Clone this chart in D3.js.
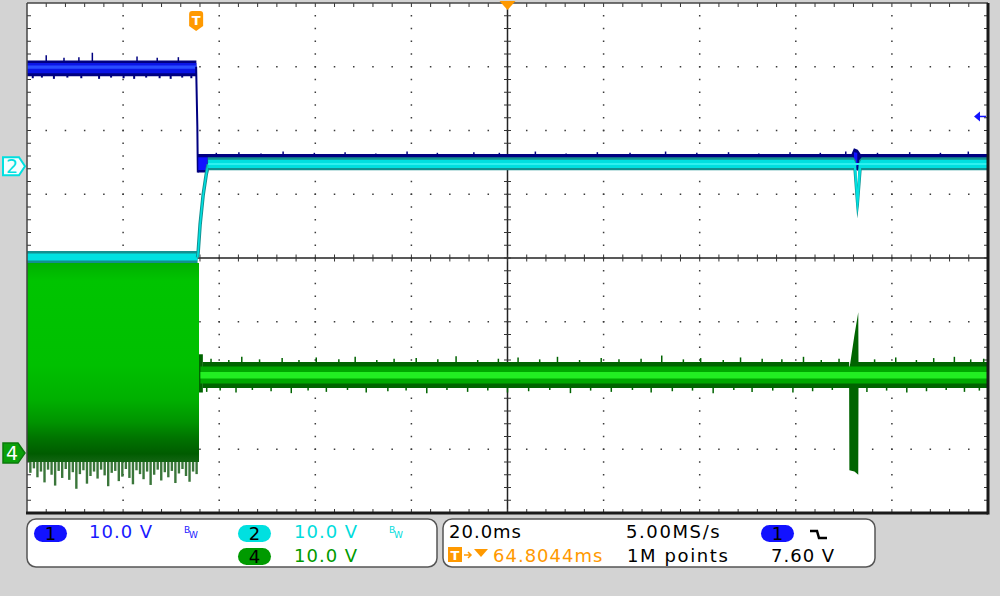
<!DOCTYPE html>
<html>
<head>
<meta charset="utf-8">
<script src="https://cdn.jsdelivr.net/npm/d3@7"></script>
<style>
    body { margin: 0; background: #d3d3d3; }
    svg { display: block; font-family: "DejaVu Sans", sans-serif; }
</style>
</head>
<body>
<svg id="scope" width="1000" height="596"></svg>
<script>
// ---- scope settings ----
const timePerDiv = 20;               // ms / div
const voltsPerDiv = 10;              // V / div, all channels
const timeWindow = [-35.2, 164.8];   // ms, trigger at 0
const chPosition = {ch1: 1.46, ch2: 1.44, ch4: -3.06};  // ground level, div from centre

// ---- channel 1 (blue) : [time ms, low V, high V] ----
const ch1HighBand = [[-35.2, 13.9, 16.4], [0.05, 13.9, 16.4]];
const ch1HighCore = [[-35.2, 14.4, 16.0], [0.05, 14.4, 16.0]];
const ch1HighLine = [[-35.2, 15.1, 15.6], [0.05, 15.1, 15.6]];
const ch1Fall = [[0.0, 15.4], [0.25, 6.0], [0.35, -1.2]];
const ch1LowBand = [[0.35, -1.2, 1.7], [2.5, -1.2, 1.7], [2.6, -0.3, 1.7], [136.4, -0.3, 1.7],
    [136.9, -0.6, 2.6], [137.7, -0.9, 2.4], [138.3, -0.3, 1.7], [164.8, -0.3, 1.7]];
const ch1LowCore = [[0.45, -0.8, 1.2], [2.4, -0.8, 1.2]];
const ch1BlobCore = [[136.9, 0.1, 2.0], [137.6, -0.3, 1.9]];
const ch1HighSpikes = [[-31.2, 0.9], [-27.5, 0.5], [-24.4, 0.6], [-21.6, 1.3], [-12.3, 0.7], [-8.1, 0.5], [-3.7, 0.6]];
const ch1HighDips = [[-34.0, 0.4], [-32.1, 0.3], [-29.6, 0.5], [-26.8, 0.3], [-23.9, 0.4], [-20.2, 0.5], [-17.7, 0.3],
    [-15.1, 0.4], [-12.9, 0.5], [-10.4, 0.3], [-7.6, 0.4], [-5.3, 0.5], [-2.9, 0.3], [-1.0, 0.4]];
const ch1LowSpikes = [[4.2, 0.3], [8.9, 0.4], [13.5, 0.2], [18.1, 0.5], [24.6, 0.3], [31.0, 0.4], [37.4, 0.2], [43.9, 0.5],
    [50.2, 0.3], [57.8, 0.4], [63.1, 0.3], [70.6, 0.5], [77.0, 0.2], [83.5, 0.4], [90.3, 0.3], [97.7, 0.5],
    [104.2, 0.3], [110.8, 0.4], [117.1, 0.2], [123.6, 0.4], [129.9, 0.3], [135.2, 0.5], [141.8, 0.3],
    [148.5, 0.4], [154.9, 0.3], [160.7, 0.5]];

// ---- channel 2 (cyan) ----
const ch2PreBand = [[-35.2, -15.3, -13.3], [0.3, -15.3, -13.3]];
const ch2PreCore = [[-35.2, -14.8, -13.7], [0.3, -14.8, -13.7]];
const ch2Ramp = [[0.3, -14.3], [0.42, -13.5], [0.83, -9.1], [1.46, -4.5], [2.08, -1.4], [2.5, 0.3]];
const ch2PostBand = [[2.4, -0.65, 1.4], [136.8, -0.65, 1.4], [137.3, -5.6, 0.9], [137.6, -8.2, -3.0],
    [137.95, -6.0, 0.9], [138.5, -0.65, 1.4], [164.8, -0.65, 1.4]];
const ch2PostCore = [[2.5, -0.3, 1.0], [136.9, -0.3, 1.0], [137.35, -5.0, 0.3], [137.6, -7.6, -3.6],
    [137.9, -5.4, 0.3], [138.4, -0.3, 1.0], [164.8, -0.3, 1.0]];
const ch2PostLine = [[2.5, 0.2, 0.5], [164.8, 0.2, 0.5]];

// ---- channel 4 (green) ----
const ch4PreBlock = [[-35.2, -1.4, 29.8], [0.6, -1.4, 29.8]];
const ch4PreDips = [-3.1, -2.4, -3.8, -2.9, -4.6, -2.6, -3.4, -5.1, -2.8, -3.9, -2.5, -4.2, -3.0, -5.6, -3.3, -2.7,
    -4.8, -3.6, -2.9, -4.0, -2.6, -3.5, -5.2, -3.1, -2.8, -4.4, -3.7, -2.5, -3.9, -4.9, -2.7, -3.3,
    -4.1, -2.9, -5.0, -3.4, -2.6, -4.3, -3.0, -3.8, -2.8, -4.7, -3.2, -2.5, -3.6, -4.5, -2.9, -3.3];
const ch4Settle = [[0.6, 9.5, 15.5], [1.4, 9.5, 15.5]];
const ch4PostOuter = [[1.4, 10.2, 14.3], [135.9, 10.2, 14.3], [135.95, -2.7, 13.2], [137.0, -2.9, 18.5],
    [137.8, -3.4, 22.1], [137.85, 10.2, 14.3], [164.8, 10.2, 14.3]];
const ch4PostMid = [[0.9, 10.9, 13.6], [164.8, 10.9, 13.6]];
const ch4PostCore = [[0.9, 11.7, 12.7], [164.8, 11.7, 12.7]];
const ch4UpSpikes = [[3.1, 0.6], [6.8, 0.4], [9.5, 0.9], [13.2, 0.5], [17.9, 0.7], [21.4, 0.4], [25.0, 0.8],
    [29.7, 0.5], [33.1, 0.9], [37.6, 0.4], [41.2, 0.6], [45.8, 0.7], [50.3, 0.5], [54.1, 1.0], [58.6, 0.4],
    [62.9, 0.6], [67.0, 0.8], [71.5, 0.5], [75.2, 0.9], [79.8, 0.4], [84.3, 0.7], [88.0, 0.5], [92.6, 0.6],
    [96.9, 1.1], [101.4, 0.5], [105.0, 0.7], [109.7, 0.4], [113.3, 0.8], [117.8, 0.6], [121.9, 0.5],
    [126.4, 0.9], [130.1, 0.4], [133.8, 0.6], [141.2, 0.5], [145.6, 0.8], [149.9, 0.4], [153.5, 0.7],
    [157.8, 0.9], [161.2, 0.5], [163.9, 0.6]];
const ch4DownSpikes = [[2.2, 0.7], [5.0, 0.5], [8.3, 0.8], [11.7, 0.4], [15.6, 0.6], [19.8, 0.9], [23.3, 0.5],
    [27.1, 0.7], [31.5, 0.4], [35.4, 0.8], [39.9, 0.6], [43.7, 0.5], [48.0, 0.9], [52.2, 0.4], [56.5, 0.7],
    [60.7, 0.5], [64.8, 0.8], [69.2, 0.6], [73.6, 0.4], [77.9, 0.9], [82.1, 0.5], [86.4, 0.7], [90.8, 0.4],
    [94.7, 0.8], [99.1, 0.6], [103.3, 0.5], [107.6, 0.9], [111.9, 0.4], [115.7, 0.7], [120.0, 0.5],
    [124.2, 0.8], [128.3, 0.6], [132.4, 0.4], [139.6, 0.7], [143.7, 0.5], [147.9, 0.8], [152.0, 0.6],
    [156.1, 0.4], [159.9, 0.7], [163.0, 0.5]];

// ---- readout ----
const chLabels = [
    {ch: "1", text: "10.0 V", bw: true},
    {ch: "2", text: "10.0 V", bw: true},
    {ch: "4", text: "10.0 V", bw: false}
];
const timebase = "20.0ms";
const sampleRate = "5.00MS/s";
const triggerDelay = "64.8044ms";
const recordLength = "1M points";
const triggerLevel = "7.60 V";

// ---- layout ----
const plot = {left: 27, right: 988, top: 3, bottom: 513};
const colors = {
    ch1: "#1212ff", ch1Dark: "#000080",
    ch2: "#00e0e0", ch2Dark: "#138f8f",
    ch4: "#00a800", ch4Dark: "#006400", ch4Bright: "#22ee22",
    orange: "#ff9900", grid: "#3a3a3a"
};

const svg = d3.select("#scope");

const x = d3.scaleLinear().domain(timeWindow).range([plot.left, plot.right]);
const yDiv = d3.scaleLinear().domain([-4, 4]).range([plot.bottom, plot.top]);
function yCh(ch) {
    return v => yDiv(v / voltsPerDiv + chPosition[ch]);
}
const y1 = yCh("ch1"), y2 = yCh("ch2"), y4 = yCh("ch4");

// plot background
svg.append("rect")
    .attr("x", plot.left).attr("y", plot.top)
    .attr("width", plot.right - plot.left).attr("height", plot.bottom - plot.top)
    .attr("fill", "#ffffff");

// graticule
const gx = d3.scaleLinear().domain([0, 10]).range([plot.left, plot.right]);
const gy = d3.scaleLinear().domain([0, 8]).range([plot.top, plot.bottom]);
const grid = svg.append("g");
const minorXs = d3.range(1, 50).map(i => i / 5);
const minorYs = d3.range(1, 40).map(i => i / 5);

[1, 2, 3, 4, 6, 7, 8, 9].forEach(i => {
    grid.selectAll(null).data(minorYs).enter().append("rect")
        .attr("x", gx(i) - 0.75).attr("y", d => gy(d) - 0.75)
        .attr("width", 1.5).attr("height", 1.5).attr("fill", colors.grid);
});
[1, 2, 3, 5, 6, 7].forEach(j => {
    grid.selectAll(null).data(minorXs).enter().append("rect")
        .attr("x", d => gx(d) - 0.75).attr("y", gy(j) - 0.75)
        .attr("width", 1.5).attr("height", 1.5).attr("fill", colors.grid);
});

// centre cross with ticks
grid.append("line")
    .attr("x1", gx(5)).attr("x2", gx(5)).attr("y1", plot.top).attr("y2", plot.bottom)
    .attr("stroke", "#222").attr("stroke-width", 1.5);
grid.append("line")
    .attr("x1", plot.left).attr("x2", plot.right).attr("y1", gy(4)).attr("y2", gy(4))
    .attr("stroke", "#222").attr("stroke-width", 1.5);
grid.selectAll(null).data(minorYs).enter().append("line")
    .attr("x1", gx(5) - 3.5).attr("x2", gx(5) + 3.5)
    .attr("y1", d => gy(d)).attr("y2", d => gy(d))
    .attr("stroke", "#333").attr("stroke-width", 1);
grid.selectAll(null).data(minorXs).enter().append("line")
    .attr("y1", gy(4) - 3.5).attr("y2", gy(4) + 3.5)
    .attr("x1", d => gx(d)).attr("x2", d => gx(d))
    .attr("stroke", "#333").attr("stroke-width", 1);

// edge ticks
grid.selectAll(null).data(minorXs).enter().append("line")
    .attr("x1", d => gx(d)).attr("x2", d => gx(d))
    .attr("y1", plot.top).attr("y2", plot.top + 4)
    .attr("stroke", "#333");
grid.selectAll(null).data(minorXs).enter().append("line")
    .attr("x1", d => gx(d)).attr("x2", d => gx(d))
    .attr("y1", plot.bottom).attr("y2", plot.bottom - 4)
    .attr("stroke", "#333");
grid.selectAll(null).data(minorYs).enter().append("line")
    .attr("x1", plot.left).attr("x2", plot.left + 4)
    .attr("y1", d => gy(d)).attr("y2", d => gy(d))
    .attr("stroke", "#333");
grid.selectAll(null).data(minorYs).enter().append("line")
    .attr("x1", plot.right).attr("x2", plot.right - 4)
    .attr("y1", d => gy(d)).attr("y2", d => gy(d))
    .attr("stroke", "#333");

// clip for traces
svg.append("clipPath").attr("id", "plotClip").append("rect")
    .attr("x", plot.left).attr("y", plot.top)
    .attr("width", plot.right - plot.left).attr("height", plot.bottom - plot.top);
const traces = svg.append("g").attr("clip-path", "url(#plotClip)");

function band(data, yFn, fill) {
    const area = d3.area()
        .x(d => x(d[0]))
        .y0(d => yFn(d[1]))
        .y1(d => yFn(d[2]));
    traces.append("path").datum(data).attr("d", area).attr("fill", fill);
}
function trace(data, yFn, stroke, width) {
    const line = d3.line().x(d => x(d[0])).y(d => yFn(d[1]));
    traces.append("path").datum(data).attr("d", line)
        .attr("fill", "none").attr("stroke", stroke).attr("stroke-width", width);
}
function spikes(data, baseV, dir, yFn, stroke, width) {
    traces.selectAll(null).data(data).enter().append("line")
        .attr("x1", d => x(d[0])).attr("x2", d => x(d[0]))
        .attr("y1", yFn(baseV)).attr("y2", d => yFn(baseV + dir * d[1]))
        .attr("stroke", stroke).attr("stroke-width", width);
}

// channel 1
band(ch1HighBand, y1, colors.ch1Dark);
spikes(ch1HighSpikes, 16.3, 1, y1, colors.ch1Dark, 1.5);
spikes(ch1HighDips, 14.0, -1, y1, colors.ch1Dark, 2);
band(ch1HighCore, y1, "#0a14e6");
band(ch1HighLine, y1, "#2a4cff");
trace(ch1Fall, y1, colors.ch1Dark, 2);
band(ch1LowBand, y1, colors.ch1Dark);
spikes(ch1LowSpikes, 1.6, 1, y1, colors.ch1Dark, 1.5);
band(ch1LowCore, y1, colors.ch1);
band(ch1BlobCore, y1, colors.ch1);

// channel 2
band(ch2PreBand, y2, colors.ch2Dark);
band(ch2PreCore, y2, colors.ch2);
trace(ch2Ramp, y2, colors.ch2Dark, 3.5);
trace(ch2Ramp, y2, colors.ch2, 1.6);
band(ch2PostBand, y2, colors.ch2Dark);
band(ch2PostCore, y2, colors.ch2);
band(ch2PostLine, y2, "#2ef0f0");

// channel 4
const grad = svg.append("defs").append("linearGradient")
    .attr("id", "ch4Persist").attr("gradientUnits", "userSpaceOnUse")
    .attr("x1", 0).attr("x2", 0).attr("y1", y4(29.8)).attr("y2", y4(-5.8));
[[0, "#00b000"], [0.08, "#00c400"], [0.45, "#00c000"], [0.6, "#00b000"], [0.7, "#009400"],
 [0.77, "#007400"], [0.84, "#005c00"], [0.9, "#1f6a1f"], [1, "#3c7a3c"]].forEach(s => {
    grad.append("stop").attr("offset", s[0]).attr("stop-color", s[1]);
});
const preTimes = d3.range(ch4PreDips.length).map(i =>
    ch4PreBlock[0][0] + 0.7 + i * (ch4PreBlock[1][0] - ch4PreBlock[0][0] - 1.2) / (ch4PreDips.length - 1));
traces.selectAll(null).data(ch4PreDips).enter().append("line")
    .attr("x1", (d, i) => x(preTimes[i])).attr("x2", (d, i) => x(preTimes[i]))
    .attr("y1", y4(-1.0)).attr("y2", d => y4(d))
    .attr("stroke", "#3a763a").attr("stroke-width", 2.4);
band(ch4PreBlock, y4, "url(#ch4Persist)");
band(ch4Settle, y4, colors.ch4Dark);
band(ch4PostOuter, y4, colors.ch4Dark);
spikes(ch4UpSpikes, 14.2, 1, y4, colors.ch4Dark, 1.5);
spikes(ch4DownSpikes, 10.3, -1, y4, colors.ch4Dark, 1.5);
band(ch4PostMid, y4, colors.ch4);
band(ch4PostCore, y4, colors.ch4Bright);

// frame
svg.append("line").attr("x1", plot.left).attr("x2", plot.right).attr("y1", plot.top).attr("y2", plot.top)
    .attr("stroke", "#444").attr("stroke-width", 1.5);
svg.append("line").attr("x1", plot.left).attr("x2", plot.left).attr("y1", plot.top).attr("y2", plot.bottom)
    .attr("stroke", "#444").attr("stroke-width", 1.5);
svg.append("line").attr("x1", plot.right).attr("x2", plot.right).attr("y1", plot.top).attr("y2", plot.bottom + 1.5)
    .attr("stroke", "#1a1a1a").attr("stroke-width", 3);
svg.append("line").attr("x1", plot.left - 1).attr("x2", plot.right).attr("y1", plot.bottom).attr("y2", plot.bottom)
    .attr("stroke", "#1a1a1a").attr("stroke-width", 3);

// markers: trigger position, expansion point, trigger level
const tx = x(0);
svg.append("path")
    .attr("d", `M${tx - 7},14 Q${tx - 7},11 ${tx - 4},11 H${tx + 4} Q${tx + 7},11 ${tx + 7},14 V26 L${tx},31 L${tx - 7},26 Z`)
    .attr("fill", colors.orange);
svg.append("text").attr("x", tx).attr("y", 25).attr("text-anchor", "middle")
    .attr("fill", "#fff").attr("font-size", 13).attr("font-weight", "bold").text("T");
const cx = gx(5);
svg.append("path").attr("d", `M${cx - 8},1 H${cx + 8} L${cx},10 Z`).attr("fill", colors.orange);
const tl = y1(7.6);
svg.append("path").attr("d", `M${plot.right - 14},${tl} L${plot.right - 8},${tl - 5} V${tl + 5} Z`)
    .attr("fill", colors.ch1);
svg.append("line").attr("x1", plot.right - 9).attr("x2", plot.right - 2).attr("y1", tl).attr("y2", tl)
    .attr("stroke", colors.ch1).attr("stroke-width", 1.5);

// channel ground markers on the left
const g2 = y2(0), g4 = y4(0);
svg.append("path").attr("d", `M3,${g2 - 9} H19 L25,${g2} L19,${g2 + 9} H3 Z`)
    .attr("fill", "#f4ffff").attr("stroke", colors.ch2).attr("stroke-width", 2);
svg.append("text").attr("x", 12).attr("y", g2 + 7).attr("text-anchor", "middle")
    .attr("fill", colors.ch2).attr("font-size", 19).text("2");
svg.append("path").attr("d", `M3,${g4 - 10} H18 L25,${g4} L18,${g4 + 10} H3 Z`)
    .attr("fill", "#0aa00a").attr("stroke", "#0b7a0b").attr("stroke-width", 1.5);
svg.append("text").attr("x", 12).attr("y", g4 + 7).attr("text-anchor", "middle")
    .attr("fill", "#fff").attr("font-size", 19).text("4");

// readout boxes
const info = svg.append("g").attr("font-size", 18).attr("letter-spacing", 1);
info.append("rect").attr("x", 27).attr("y", 519).attr("width", 410).attr("height", 48).attr("rx", 9)
    .attr("fill", "#fff").attr("stroke", "#555").attr("stroke-width", 1.5);
info.append("rect").attr("x", 443).attr("y", 519).attr("width", 432).attr("height", 48).attr("rx", 9)
    .attr("fill", "#fff").attr("stroke", "#555").attr("stroke-width", 1.5);

function pill(px, py, fill, label) {
    info.append("rect").attr("x", px).attr("y", py).attr("width", 33).attr("height", 17).attr("rx", 8.5)
        .attr("fill", fill);
    info.append("text").attr("x", px + 16.5).attr("y", py + 15).attr("text-anchor", "middle")
        .attr("letter-spacing", 0).attr("fill", "#000").text(label);
}
function bwMark(bx, fill) {
    info.append("text").attr("x", bx).attr("y", 533).attr("font-size", 9).attr("letter-spacing", 0)
        .attr("fill", fill).text("B");
    info.append("text").attr("x", bx + 5).attr("y", 538).attr("font-size", 9).attr("letter-spacing", 0)
        .attr("fill", fill).text("W");
}
const labelSlots = [
    {px: 34, py: 525, tx: 89, ty: 538, bwx: 184, fill: colors.ch1, text: "#1a1aff"},
    {px: 238, py: 525, tx: 294, ty: 538, bwx: 389, fill: colors.ch2, text: "#00dcdc"},
    {px: 238, py: 548, tx: 294, ty: 562, bwx: 0, fill: "#009a00", text: "#009a00"}
];
chLabels.forEach((c, i) => {
    const s = labelSlots[i];
    pill(s.px, s.py, s.fill, c.ch);
    info.append("text").attr("x", s.tx).attr("y", s.ty).attr("fill", s.text).text(c.text);
    if (c.bw) bwMark(s.bwx, s.text);
});

info.append("text").attr("x", 449).attr("y", 538).attr("fill", "#000").text(timebase);
info.append("text").attr("x", 626).attr("y", 538).attr("fill", "#000").attr("letter-spacing", 1.6).text(sampleRate);
pill(761, 525, colors.ch1, "1");
info.append("path").attr("d", "M810,531 H817 L819,538 H827")
    .attr("fill", "none").attr("stroke", "#000").attr("stroke-width", 2.5);

info.append("rect").attr("x", 448).attr("y", 547).attr("width", 14).attr("height", 15).attr("fill", colors.orange);
info.append("text").attr("x", 455).attr("y", 560).attr("text-anchor", "middle").attr("font-size", 13)
    .attr("font-weight", "bold").attr("letter-spacing", 0).attr("fill", "#fff").text("T");
info.append("path").attr("d", "M464,555 H471 M468,552 L471,555 L468,558")
    .attr("fill", "none").attr("stroke", colors.orange).attr("stroke-width", 1.5);
info.append("path").attr("d", "M474,549 H488 L481,557 Z").attr("fill", colors.orange);
info.append("text").attr("x", 493).attr("y", 562).attr("fill", colors.orange).text(triggerDelay);
info.append("text").attr("x", 627).attr("y", 562).attr("fill", "#000").attr("letter-spacing", 1.6).text(recordLength);
info.append("text").attr("x", 771).attr("y", 562).attr("fill", "#000").text(triggerLevel);
</script>
</body>
</html>
